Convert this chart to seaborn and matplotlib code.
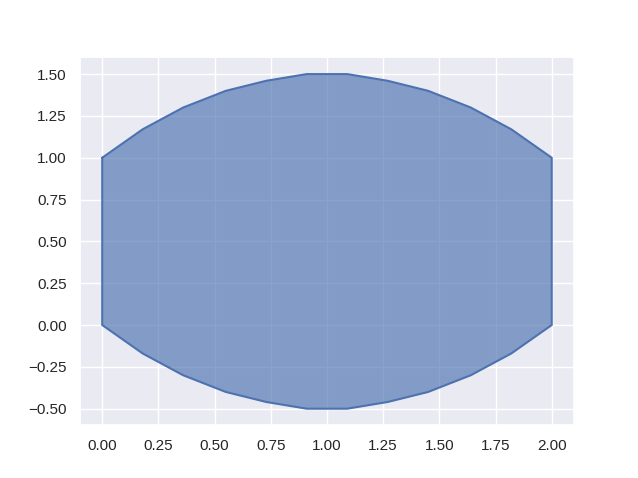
import numpy as np
import matplotlib
matplotlib.use("Agg")
import matplotlib.pyplot as plt
import seaborn as sns

sns.set_theme(style="darkgrid")
plt.rcParams['font.family'] = ['Liberation Sans', 'DejaVu Sans']

# polygon outline
x_vals = [0.0, 0.18, 0.36, 0.55, 0.73, 0.91, 1.09, 1.27, 1.45, 1.64, 1.82, 2.0]
upper = [1.0, 1.17, 1.30, 1.40, 1.46, 1.50, 1.50, 1.46, 1.40, 1.30, 1.17, 1.0]
lower = [0.0, -0.17, -0.30, -0.40, -0.46, -0.50, -0.50, -0.46, -0.40, -0.30, -0.17, 0.0]

xs = x_vals + x_vals[::-1]
ys = upper + lower[::-1]

fig, ax = plt.subplots(figsize=(6.38, 4.78), dpi=100)
blue = sns.color_palette()[0]
ax.fill(xs, ys, facecolor=blue, alpha=0.65, edgecolor="none")
ax.plot(xs + [xs[0]], ys + [ys[0]], color=blue, linewidth=1.5)

ax.set_xticks(np.arange(0, 2.01, 0.25))
ax.set_yticks(np.arange(-0.5, 1.51, 0.25))

fig.savefig("out.png", dpi=100)
